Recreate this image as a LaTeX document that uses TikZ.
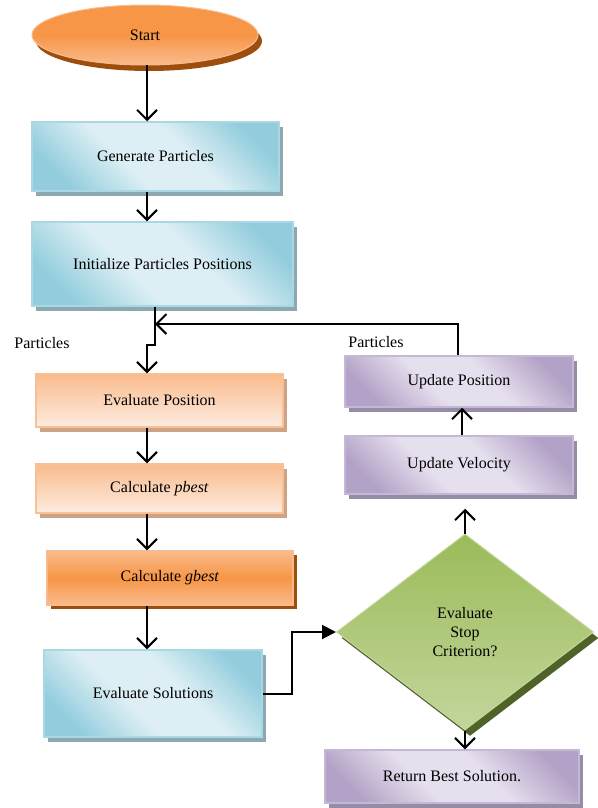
\documentclass[tikz,border=0pt]{standalone}
\usepackage{fontspec}
\setmainfont{Liberation Serif}
\usetikzlibrary{shapes.geometric}
\usetikzlibrary{shadows}
\usetikzlibrary{arrows.meta}
\definecolor{bluedk}{HTML}{93CDDD}
\definecolor{bluelt}{HTML}{DDEFF4}
\definecolor{blueln}{HTML}{A9D8E4}
\definecolor{blueshd}{HTML}{8CA9B1}
\definecolor{orlt}{HTML}{F9BB8D}
\definecolor{orwh}{HTML}{FDECE0}
\definecolor{orln}{HTML}{F9BF95}
\definecolor{orshd}{HTML}{CCA385}
\definecolor{ordk}{HTML}{F79646}
\definecolor{ordkshd}{HTML}{9E4E0C}
\definecolor{grndk}{HTML}{9BBB59}
\definecolor{grnlt}{HTML}{C3D69B}
\definecolor{grnshd}{HTML}{4F6228}
\definecolor{pudk}{HTML}{B3A2C7}
\definecolor{pult}{HTML}{E6E0EE}
\definecolor{puln}{HTML}{C4B8D6}
\definecolor{pushd}{HTML}{978CA5}
\pgfdeclareverticalshading{blueband}{100bp}{color(0bp)=(bluedk); color(24bp)=(bluedk); color(42bp)=(bluelt); color(58bp)=(bluelt); color(76bp)=(bluedk); color(100bp)=(bluedk)}
\pgfdeclareverticalshading{puband}{100bp}{color(0bp)=(pudk); color(24bp)=(pudk); color(42bp)=(pult); color(58bp)=(pult); color(76bp)=(pudk); color(100bp)=(pudk)}

\begin{document}
\begin{tikzpicture}[x=1pt,y=-1pt,
every node/.style={font=\fontsize{16}{19}\selectfont,inner sep=0pt},
bluebox/.style={rectangle,draw=blueln,line width=1.5pt,shading=blueband,shading angle=-45,general shadow={fill=blueshd,shadow xshift=4pt,shadow yshift=-5pt}},
orbox/.style={rectangle,draw=orln,line width=1.5pt,top color=orlt,bottom color=orwh,general shadow={fill=orshd,shadow xshift=4pt,shadow yshift=-5pt}},
gbox/.style={rectangle,draw=orlt,line width=1.5pt,top color=orlt,bottom color=orlt,middle color=ordk,general shadow={fill=ordkshd,shadow xshift=4pt,shadow yshift=-4pt}},
pubox/.style={rectangle,draw=puln,line width=1.5pt,shading=puband,shading angle=-45,general shadow={fill=pushd,shadow xshift=4pt,shadow yshift=-5pt}},
-->/.style={-{Straight Barb[length=10pt,width=20pt]},line width=2pt},
--->/.style={-{Triangle[length=14pt,width=14pt]},line width=2pt},
]
\useasboundingbox (0,0) rectangle (597,808);

\node[ellipse,minimum width=226pt,minimum height=60pt,draw=orlt,line width=1pt,top color=ordk,bottom color=orlt,middle color=ordk,general shadow={fill=ordkshd,shadow xshift=4pt,shadow yshift=-6pt}] (st) at (145,35) {Start};
\node[bluebox,minimum width=247pt,minimum height=69pt] (gp) at (155.5,156.5) {Generate Particles};
\node[bluebox,minimum width=261pt,minimum height=84pt] (ip) at (162.5,264) {Initialize Particles Positions};
\node[orbox,minimum width=247pt,minimum height=53pt] (ep) at (159.5,400.5) {Evaluate Position};
\node[orbox,minimum width=247pt,minimum height=49pt] (pb) at (159.5,488.5) {Calculate \textit{pbest}};
\node[gbox,minimum width=246pt,minimum height=54pt] (gb) at (170,578) {Calculate \textit{gbest}};
\node[bluebox,minimum width=218pt,minimum height=87pt] (es) at (153,693.5) {Evaluate Solutions};
\node[diamond,aspect=1.3,minimum width=257pt,minimum height=196pt,align=center,draw=grnlt,line width=1pt,top color=grndk,bottom color=grnlt,general shadow={fill=grnshd,shadow xshift=5pt,shadow yshift=-6pt}] (dc) at (465,632) {Evaluate\\Stop\\Criterion?};
\node[pubox,minimum width=228pt,minimum height=58pt] (uv) at (459,465) {Update Velocity};
\node[pubox,minimum width=228pt,minimum height=51pt] (up) at (459,381.5) {Update Position};
\node[pubox,minimum width=254pt,minimum height=53pt] (rb) at (452,776.5) {Return Best Solution.};
\node (l1) at (42,343) {Particles};
\node (l2) at (376,342) {Particles};

\coordinate (c1) at (147,0);
\coordinate (c2) at (462,0);
\coordinate (j1) at (155,324);
\coordinate (j2) at (155,345);
\coordinate (j3) at (147,345);
\coordinate (j4) at (458,324);
\coordinate (j5) at (292,632);
\draw[-->] (st.south -| c1) -- (gp.north -| c1);
\draw[-->] (gp.south -| c1) -- (ip.north -| c1);
\draw[-->] (ip.south -| j1) -- (j2) -- (j3) -- (ep.north -| j3);
\draw[-->] (j4 |- up.north) -- (j4) -- (j1);
\draw[-->] (ep.south -| c1) -- (pb.north -| c1);
\draw[-->] (pb.south -| c1) -- (gb.north -| c1);
\draw[-->] (gb.south -| c1) -- (es.north -| c1);
\draw[--->] (es.east) -| (j5) -- (dc.west);
\draw[-->,shorten >=14pt] (dc.north) -- (dc.north |- uv.south);
\draw[-->] (uv.north -| c2) -- (up.south -| c2);
\draw[-->] (dc.south) -- (dc.south |- rb.north);

\end{tikzpicture}
\end{document}
